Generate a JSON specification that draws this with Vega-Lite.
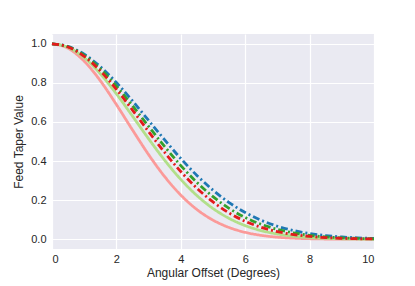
{
  "$schema": "https://vega.github.io/schema/vega-lite/v6.json",
  "width": 322,
  "height": 215,
  "autosize": {"type": "none"},
  "padding": {"left": 52, "top": 34, "right": 41, "bottom": 37},
  "background": "white",
  "view": {"fill": "#EAEAF2", "stroke": null},
  "config": {
    "font": "Liberation Sans",
    "axis": {
      "grid": true, "gridColor": "white", "gridWidth": 1.2, "domain": false, "ticks": false,
      "labelFont": "Liberation Sans", "labelFontSize": 11, "labelColor": "#262626",
      "titleFont": "Liberation Sans", "titleFontSize": 12, "titleFontWeight": "normal", "titleColor": "#262626"
    }
  },
  "data": {"values": [
    {"s":"a","x":0,"y":1},{"s":"a","x":0.5,"y":0.977},{"s":"a","x":1,"y":0.911},{"s":"a","x":1.5,"y":0.811},{"s":"a","x":2,"y":0.689},{"s":"a","x":2.5,"y":0.559},{"s":"a","x":3,"y":0.433},{"s":"a","x":3.5,"y":0.320},{"s":"a","x":4,"y":0.226},{"s":"a","x":4.5,"y":0.152},{"s":"a","x":5,"y":0.0978},{"s":"a","x":5.5,"y":0.060},{"s":"a","x":6,"y":0.0352},{"s":"a","x":6.5,"y":0.0197},{"s":"a","x":7,"y":0.0105},{"s":"a","x":7.5,"y":0.0054},{"s":"a","x":8,"y":0.0026},{"s":"a","x":8.5,"y":0.0012},{"s":"a","x":9,"y":0.0005},{"s":"a","x":9.5,"y":0.0002},{"s":"a","x":10,"y":0.0001},
    {"s":"b","x":0,"y":1},{"s":"b","x":0.5,"y":0.9817},{"s":"b","x":1,"y":0.9287},{"s":"b","x":1.5,"y":0.8466},{"s":"b","x":2,"y":0.7438},{"s":"b","x":2.5,"y":0.6297},{"s":"b","x":3,"y":0.5138},{"s":"b","x":3.5,"y":0.4039},{"s":"b","x":4,"y":0.3061},{"s":"b","x":4.5,"y":0.2235},{"s":"b","x":5,"y":0.1572},{"s":"b","x":5.5,"y":0.1066},{"s":"b","x":6,"y":0.0697},{"s":"b","x":6.5,"y":0.0439},{"s":"b","x":7,"y":0.0266},{"s":"b","x":7.5,"y":0.0156},{"s":"b","x":8,"y":0.0088},{"s":"b","x":8.5,"y":0.0048},{"s":"b","x":9,"y":0.0025},{"s":"b","x":9.5,"y":0.0013},{"s":"b","x":10,"y":0.0006},
    {"s":"e","x":0,"y":1},{"s":"e","x":0.5,"y":0.9863},{"s":"e","x":1,"y":0.9462},{"s":"e","x":1.5,"y":0.8830},{"s":"e","x":2,"y":0.8016},{"s":"e","x":2.5,"y":0.7078},{"s":"e","x":3,"y":0.6079},{"s":"e","x":3.5,"y":0.5079},{"s":"e","x":4,"y":0.4128},{"s":"e","x":4.5,"y":0.3263},{"s":"e","x":5,"y":0.2510},{"s":"e","x":5.5,"y":0.1877},{"s":"e","x":6,"y":0.1366},{"s":"e","x":6.5,"y":0.0967},{"s":"e","x":7,"y":0.0666},{"s":"e","x":7.5,"y":0.0446},{"s":"e","x":8,"y":0.0290},{"s":"e","x":8.5,"y":0.0184},{"s":"e","x":9,"y":0.0113},{"s":"e","x":9.5,"y":0.0068},{"s":"e","x":10,"y":0.0040},
    {"s":"d","x":0,"y":1},{"s":"d","x":0.5,"y":0.9849},{"s":"d","x":1,"y":0.9408},{"s":"d","x":1.5,"y":0.8718},{"s":"d","x":2,"y":0.7835},{"s":"d","x":2.5,"y":0.6830},{"s":"d","x":3,"y":0.5775},{"s":"d","x":3.5,"y":0.4737},{"s":"d","x":4,"y":0.3768},{"s":"d","x":4.5,"y":0.2908},{"s":"d","x":5,"y":0.2176},{"s":"d","x":5.5,"y":0.1580},{"s":"d","x":6,"y":0.1113},{"s":"d","x":6.5,"y":0.0760},{"s":"d","x":7,"y":0.0503},{"s":"d","x":7.5,"y":0.0323},{"s":"d","x":8,"y":0.0202},{"s":"d","x":8.5,"y":0.0122},{"s":"d","x":9,"y":0.0072},{"s":"d","x":9.5,"y":0.0041},{"s":"d","x":10,"y":0.0022},
    {"s":"f","x":0,"y":1},{"s":"f","x":0.5,"y":0.9836},{"s":"f","x":1,"y":0.9358},{"s":"f","x":1.5,"y":0.8614},{"s":"f","x":2,"y":0.7670},{"s":"f","x":2.5,"y":0.6608},{"s":"f","x":3,"y":0.5506},{"s":"f","x":3.5,"y":0.4439},{"s":"f","x":4,"y":0.3462},{"s":"f","x":4.5,"y":0.2612},{"s":"f","x":5,"y":0.1906},{"s":"f","x":5.5,"y":0.1346},{"s":"f","x":6,"y":0.0919},{"s":"f","x":6.5,"y":0.0607},{"s":"f","x":7,"y":0.0388},{"s":"f","x":7.5,"y":0.0240},{"s":"f","x":8,"y":0.0144},{"s":"f","x":8.5,"y":0.0083},{"s":"f","x":9,"y":0.0047},{"s":"f","x":9.5,"y":0.0025},{"s":"f","x":10,"y":0.0013}
  ]},
  "mark": {"type": "line", "interpolate": "monotone", "strokeWidth": 2.8, "strokeCap": "butt"},
  "encoding": {
    "x": {"field": "x", "type": "quantitative", "title": "Angular Offset (Degrees)",
      "scale": {"domain": [0, 10], "nice": false, "zero": false},
      "axis": {"values": [0, 2, 4, 6, 8, 10], "labelPadding": 4, "titlePadding": 3}},
    "y": {"field": "y", "type": "quantitative", "title": "Feed Taper Value",
      "scale": {"domain": [-0.05, 1.05], "nice": false, "zero": false},
      "axis": {"values": [0, 0.2, 0.4, 0.6, 0.8, 1.0], "format": ".1f", "labelPadding": 6, "titlePadding": 5}},
    "color": {"field": "s", "type": "nominal", "legend": null,
      "scale": {"domain": ["a", "b", "e", "d", "f"], "range": ["#fb9a99", "#b2df8a", "#1f78b4", "#33a02c", "#e31a1c"]}},
    "strokeDash": {"field": "s", "type": "nominal", "legend": null,
      "scale": {"domain": ["a", "b", "e", "d", "f"], "range": [[1, 0], [1, 0], [7, 3, 2, 3], [7, 3, 2, 3], [7, 3, 2, 3]]}}
  }
}
